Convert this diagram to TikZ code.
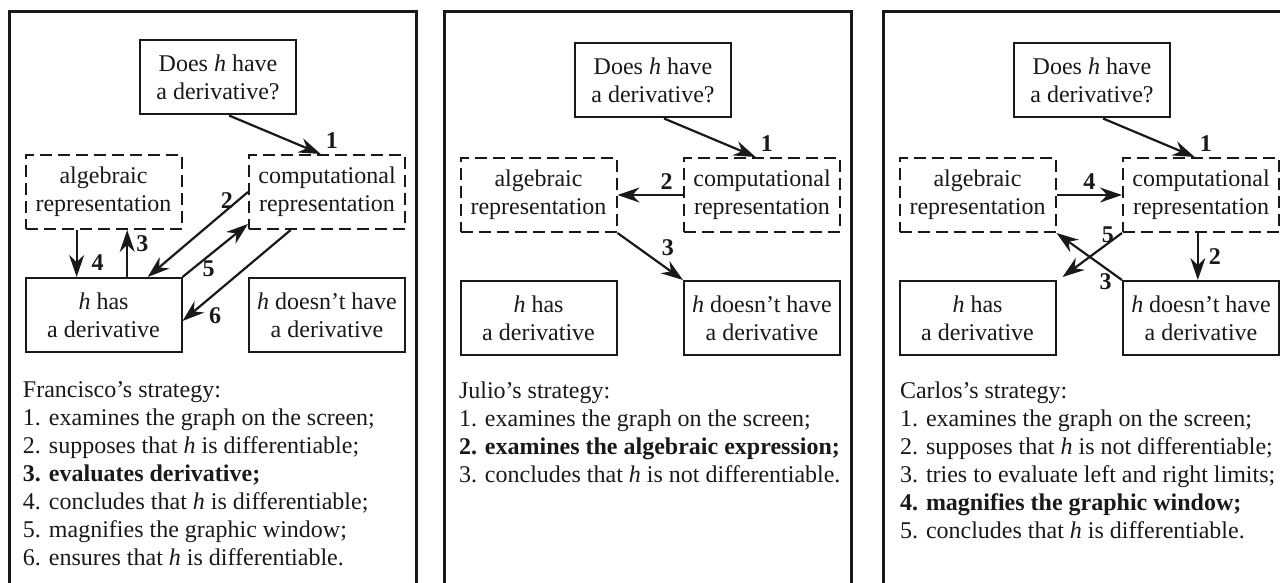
\documentclass[tikz,border=0pt]{standalone}
\usepackage{fontspec}
\setmainfont{Liberation Serif}
\usetikzlibrary{arrows.meta,calc}
\definecolor{ink}{RGB}{25,25,25}
\tikzset{
  every picture/.style={color=ink, line width=1pt, font=\fontsize{12}{14}\selectfont},
  box/.style={draw=ink, line width=1pt, fill=white, align=center, inner sep=0pt, minimum width=78pt, minimum height=37pt},
  rep/.style={box, dash pattern=on 6pt off 3pt},
  panel/.style={draw=ink, line width=1.5pt},
  flow/.style={-{Stealth[length=11pt,width=7.5pt]}, line width=1.1pt},
  num/.style={font=\fontsize{12}{14}\selectfont\bfseries, inner sep=2pt},
  steps/.style={align=left, anchor=base west, inner sep=0pt},
}

\begin{document}
\begin{tikzpicture}[x=0.5pt, y=-0.5pt]
  \useasboundingbox (0,0) rectangle (1280,583);
  % the three panels share frame, boxes and step 1
  \foreach \i/\dx/\dy in {1/0/0, 2/435/3, 3/874/3} {
    \draw[panel] (\dx+9,590) |- (\dx+416,12) -- (\dx+416,590);
    \node[box] (q\i) at (\dx+218,\dy+77.5) {Does \textit{h} have\\a derivative?};
    \node[rep] (alg\i) at (\dx+103.5,\dy+192) {algebraic\\representation};
    \node[rep] (comp\i) at (\dx+327,\dy+192) {computational\\representation};
    \node[box] (has\i) at (\dx+103.5,\dy+315) {\textit{h} has\\a derivative};
    \node[box] (hasnt\i) at (\dx+327,\dy+315) {\textit{h} doesn't have\\a derivative};
    \draw[flow] ($(q\i.south west)!0.57!(q\i.south east)$) -- node[num, above right, pos=1] (one\i) {1} ($(comp\i.north west)!0.46!(comp\i.north east)$);
  }
  % Francisco
  \draw[flow] (comp1.west) -- node[num, left, pos=0.1] (f2) {2} ($(has1.north west)!0.78!(has1.north east)$);
  \draw[flow] ($(has1.north west)!0.65!(has1.north east)$) -- node[num, right=2pt, pos=0.7] (f3) {3} ($(alg1.south west)!0.65!(alg1.south east)$);
  \draw[flow] ($(alg1.south west)!0.33!(alg1.south east)$) -- node[num, right=5pt, pos=0.7] (f4) {4} ($(has1.north west)!0.33!(has1.north east)$);
  \draw[flow] (has1.north east) -- node[num, below, pos=0.4] (f5) {5} ($(comp1.south west)+(0,-6)$);
  \draw[flow] ($(comp1.south west)!0.27!(comp1.south east)$) -- node[num, below right, pos=0.8] (f6) {6} ($(has1.east)+(0,6)$);
  % lists are anchored at the baseline of their last line
  \node[steps] (fran) at (22,565) {Francisco's strategy:\\1. examines the graph on the screen;\\2. supposes that \textit{h} is differentiable;\\\textbf{3. evaluates derivative;}\\4. concludes that \textit{h} is differentiable;\\5. magnifies the graphic window;\\6. ensures that \textit{h} is differentiable.};
  % Julio
  \draw[flow] (comp2.west) -- node[num, above, pos=0.25] (j2) {2} (alg2.east);
  \draw[flow] (alg2.south east) -- node[num, above right, pos=0.6] (j3) {3} (hasnt2.north west);
  \node[steps] (jul) at (458,482) {Julio's strategy:\\1. examines the graph on the screen;\\\textbf{2. examines the algebraic expression;}\\3. concludes that \textit{h} is not differentiable.};
  % Carlos
  \draw[flow] (alg3.east) -- node[num, above, pos=0.5] (c4) {4} (comp3.west);
  \draw[flow] ($(comp3.south west)!0.48!(comp3.south east)$) -- node[num, right=3pt, pos=0.5] (c2) {2} ($(hasnt3.north west)!0.48!(hasnt3.north east)$);
  \draw[flow] (hasnt3.north west) -- node[num, below, pos=0.25] (c3) {3} (alg3.south east);
  \draw[flow] (comp3.south west) -- node[num, left, pos=0.05] (c5) {5} ($(has3.north east)+(6,-3)$);
  \node[steps] (car) at (899,538) {Carlos's strategy:\\1. examines the graph on the screen;\\2. supposes that \textit{h} is not differentiable;\\3. tries to evaluate left and right limits;\\\textbf{4. magnifies the graphic window;}\\5. concludes that \textit{h} is differentiable.};
\end{tikzpicture}
\end{document}
